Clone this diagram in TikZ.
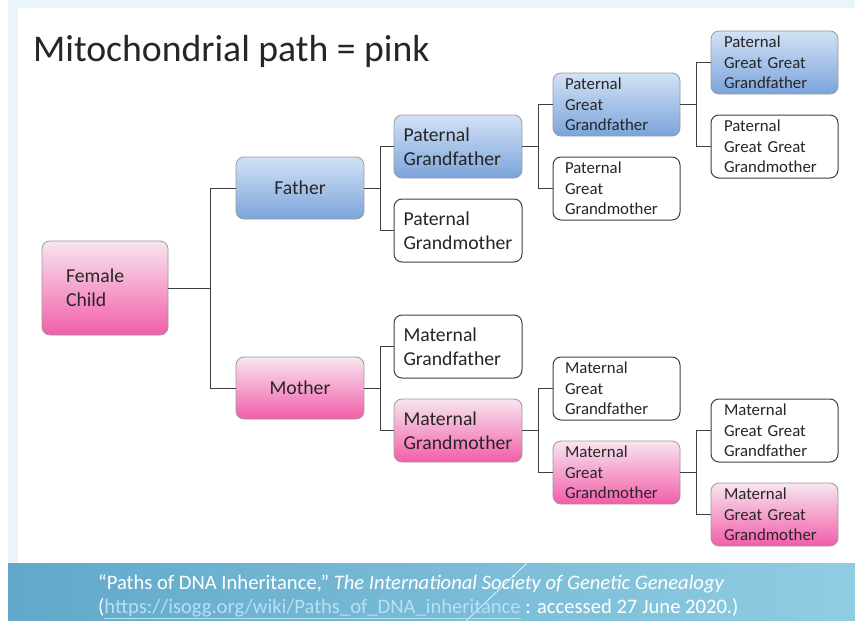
\documentclass[tikz,border=0pt]{standalone}
\usepackage{fontspec}
\setmainfont{Carlito}
\definecolor{bgcyan}{HTML}{E8F5FB}
\definecolor{bannerL}{HTML}{62A8CA}
\definecolor{bannerR}{HTML}{8FCDE2}
\definecolor{blueTop}{HTML}{D3E2F5}
\definecolor{blueBot}{HTML}{7BA4DB}
\definecolor{pinkTop}{HTML}{F7E6EF}
\definecolor{pinkBot}{HTML}{F35DAA}
\definecolor{lineGray}{HTML}{3F3F3F}
\definecolor{edgeGray}{HTML}{9A9A9A}
\definecolor{linkBlue}{HTML}{B4E1F4}
\definecolor{txt}{HTML}{262626}
\begin{document}
\begin{tikzpicture}[x=1pt,y=-1pt,
  box/.style={rounded corners=8pt, inner ysep=0pt, align=left, text=txt},
  bluefill/.style={top color=blueTop, bottom color=blueBot, draw=edgeGray, line width=0.8pt},
  pinkfill/.style={top color=pinkTop, bottom color=pinkBot, draw=edgeGray, line width=0.8pt},
  plainfill/.style={fill=white, draw=lineGray, line width=1pt},
  lvlzero/.style={box, minimum height=94pt, text width=78pt, inner xsep=24pt,
    font=\fontsize{19.7}{24}\selectfont},
  lvlone/.style={box, minimum height=62pt, text width=108pt, inner xsep=10pt, align=center,
    font=\fontsize{19.7}{24}\selectfont},
  lvltwo/.style={box, minimum height=63pt, text width=109pt, inner xsep=9.5pt,
    font=\fontsize{19.7}{24}\selectfont},
  lvlthree/.style={box, minimum height=63pt, text width=103pt, inner xsep=12pt,
    font=\fontsize{16.8}{20.5}\selectfont},
  lvlfour/.style={box, minimum height=63pt, text width=101pt, inner xsep=13pt,
    font=\fontsize{16.8}{20.5}\selectfont},
  conn/.style={draw=lineGray, line width=1pt},
  citetext/.style={anchor=base west, inner sep=0pt, text=white, font=\fontsize{20.6}{24}\selectfont}
]
\useasboundingbox (0,0) rectangle (855,621);

% slide background, content panel and footer banner
\fill[bgcyan] (8,0) rectangle (855,621);
\fill[white] (18,8) rectangle (855,563);
\shade[left color=bannerL, right color=bannerR] (8,563) rectangle (855,621);
\draw[white!85!bannerR, line width=0.7pt] (527,563) -- (466,621);

% title
\node[anchor=base west, inner sep=0pt, text=black!85,
  font=\fontsize{37.7}{44}\selectfont] (title) at (33,61) {Mitochondrial path = pink};

% generation 0 and 1
\node[lvlzero, pinkfill] (child) at (105,288) {Female\\Child};
\node[lvlone, bluefill] (father) at (300,188) {Father};
\node[lvlone, pinkfill] (mother) at (300,388) {Mother};

% grandparents
\node[lvltwo, bluefill]  (pgf) at (458,146.5) {Paternal\\Grandfather};
\node[lvltwo, plainfill] (pgm) at (458,230.5) {Paternal\\Grandmother};
\node[lvltwo, plainfill] (mgf) at (458,346.5) {Maternal\\Grandfather};
\node[lvltwo, pinkfill]  (mgm) at (458,430.5) {Maternal\\Grandmother};

% great-grandparents
\node[lvlthree, bluefill]  (pggf) at (616.5,104.5) {Paternal\\Great\\Grandfather};
\node[lvlthree, plainfill] (pggm) at (616.5,188.5) {Paternal\\Great\\Grandmother};
\node[lvlthree, plainfill] (mggf) at (616.5,388.5) {Maternal\\Great\\Grandfather};
\node[lvlthree, pinkfill]  (mggm) at (616.5,472.5) {Maternal\\Great\\Grandmother};

% great-great-grandparents
\node[lvlfour, bluefill]  (pgggf) at (774.5,62.5)  {Paternal\\Great Great\\Grandfather};
\node[lvlfour, plainfill] (pgggm) at (774.5,146.5) {Paternal\\Great Great\\Grandmother};
\node[lvlfour, plainfill] (mgggf) at (774.5,430.5) {Maternal\\Great Great\\Grandfather};
\node[lvlfour, pinkfill]  (mgggm) at (774.5,514.5) {Maternal\\Great Great\\Grandmother};

% elbow connectors: parent -> junction -> the two children
\coordinate (j0) at (210,0);
\coordinate (j1) at (380,0);
\coordinate (j2) at (538,0);
\coordinate (j3) at (696,0);
\draw[conn] (child.east) -- (child.east -| j0);
\draw[conn] (father.west) -- (father.west -| j0) |- (mother.west);
\draw[conn] (father.east) -- (father.east -| j1);
\draw[conn] (pgf.west) -- (pgf.west -| j1) |- (pgm.west);
\draw[conn] (mother.east) -- (mother.east -| j1);
\draw[conn] (mgf.west) -- (mgf.west -| j1) |- (mgm.west);
\draw[conn] (pgf.east) -- (pgf.east -| j2);
\draw[conn] (pggf.west) -- (pggf.west -| j2) |- (pggm.west);
\draw[conn] (mgm.east) -- (mgm.east -| j2);
\draw[conn] (mggf.west) -- (mggf.west -| j2) |- (mggm.west);
\draw[conn] (pggf.east) -- (pggf.east -| j3);
\draw[conn] (pgggf.west) -- (pgggf.west -| j3) |- (pgggm.west);
\draw[conn] (mggm.east) -- (mggm.east -| j3);
\draw[conn] (mgggf.west) -- (mgggf.west -| j3) |- (mgggm.west);

% citation in the footer
\node[citetext] (cite1) at (98,589)
  {“Paths of DNA Inheritance,” \textit{The International Society of Genetic Genealogy}};
\node[citetext] (cite2) at (98,613)
  {(\textcolor{linkBlue}{\underline{https://isogg.org/wiki/Paths\_of\_DNA\_inheritance}} : accessed 27 June 2020.)};
\end{tikzpicture}
\end{document}
